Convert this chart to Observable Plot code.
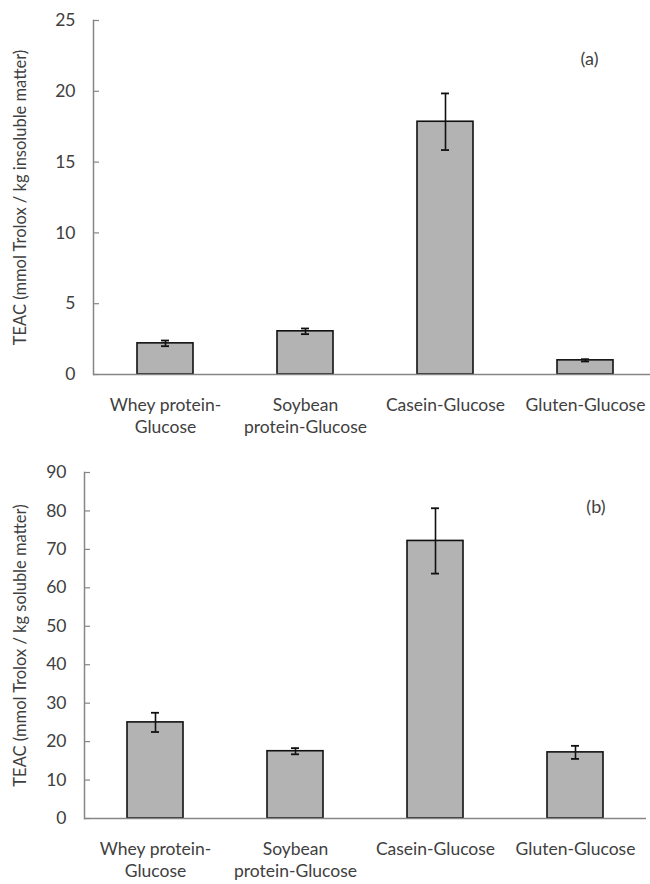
<!DOCTYPE html>
<html>
<head>
<meta charset="utf-8">
<script src="https://cdn.jsdelivr.net/npm/d3@7"></script>
<script src="https://cdn.jsdelivr.net/npm/@observablehq/plot@0.6"></script>
<style>
  html, body { margin: 0; padding: 0; background: #fff; }
  #chart { width: 650px; }
  #chart svg { display: block; }
</style>
</head>
<body>
<div id="chart"></div>
<script>
const categories = ["Whey protein-Glucose", "Soybean protein-Glucose", "Casein-Glucose", "Gluten-Glucose"];
const tickLabels = ["Whey protein-\nGlucose", "Soybean\nprotein-Glucose", "Casein-Glucose", "Gluten-Glucose"];

const insolubleValues = [2.2, 3.05, 17.85, 1.0];
const insolubleErrors = [0.2, 0.2, 2.0, 0.08];
const insolubleTicks = [0, 5, 10, 15, 20, 25];

const solubleValues = [25.0, 17.5, 72.2, 17.2];
const solubleErrors = [2.5, 0.8, 8.5, 1.7];
const solubleTicks = [0, 10, 20, 30, 40, 50, 60, 70, 80, 90];

const FONT = "Lato, 'Open Sans', sans-serif";
const labelOf = new Map(categories.map((c, i) => [c, tickLabels[i]]));

function panel({values, errors, ticks, yMax, yLabel, tag, height, marginTop, marginBottom, marginLeft, marginRight, xRange, tagDx, tagDy}) {
  const rows = categories.map((c, i) => ({cat: c, v: values[i], lo: values[i] - errors[i], hi: values[i] + errors[i]}));
  return Plot.plot({
    width: 650,
    height,
    marginTop, marginBottom, marginLeft, marginRight,
    style: {fontFamily: FONT, background: "#fff", color: "#404040"},
    x: {domain: categories, range: xRange, paddingInner: 0.6, paddingOuter: 0.3, align: 0.5},
    y: {domain: [0, yMax]},
    marks: [
      Plot.barY(rows, {x: "cat", y: "v", fill: "#b3b3b3", stroke: "#111", strokeWidth: 1.6}),
      Plot.ruleX(rows, {x: "cat", y1: "lo", y2: "hi", stroke: "#111", strokeWidth: 1.6}),
      Plot.tickY(rows, {x: "cat", y: "lo", stroke: "#111", strokeWidth: 1.8, insetLeft: 24, insetRight: 24}),
      Plot.tickY(rows, {x: "cat", y: "hi", stroke: "#111", strokeWidth: 1.8, insetLeft: 24, insetRight: 24}),
      Plot.ruleY([0], {stroke: "#868686", strokeWidth: 1.5}),
      Plot.frame({anchor: "left", stroke: "#868686", strokeWidth: 1.5}),
      Plot.axisY(ticks, {tickSize: 6, dx: 6, text: null, stroke: "#868686", strokeWidth: 1.2}),
      Plot.axisY(ticks, {tickSize: 0, tickPadding: 18, fontSize: 17.5, fill: "#404040", label: null}),
      Plot.axisX({tickSize: 0, tickPadding: 21, fontSize: 17.5, fill: "#404040", lineHeight: 1.25, tickFormat: d => labelOf.get(d), label: null}),
      Plot.text([yLabel], {frameAnchor: "left", rotate: -90, textAnchor: "middle", dx: -marginLeft + 20, fontSize: 16.5, fill: "#404040"}),
      Plot.text([tag], {frameAnchor: "top-right", dx: tagDx, dy: tagDy, fontSize: 18, fill: "#404040"})
    ]
  });
}

const chartTop = panel({
  values: insolubleValues, errors: insolubleErrors, ticks: insolubleTicks, yMax: 25,
  yLabel: "TEAC (mmol Trolox / kg insoluble matter)", tag: "(a)",
  height: 440, marginTop: 20, marginBottom: 66, marginLeft: 93, marginRight: 0,
  xRange: [94, 656], tagDx: -52, tagDy: 32
});
const chartBottom = panel({
  values: solubleValues, errors: solubleErrors, ticks: solubleTicks, yMax: 90,
  yLabel: "TEAC (mmol Trolox / kg soluble matter)", tag: "(b)",
  height: 444, marginTop: 32, marginBottom: 66, marginLeft: 84, marginRight: 4,
  xRange: [84, 646], tagDx: -41, tagDy: 28
});
document.getElementById("chart").append(chartTop, chartBottom);
</script>
</body>
</html>
